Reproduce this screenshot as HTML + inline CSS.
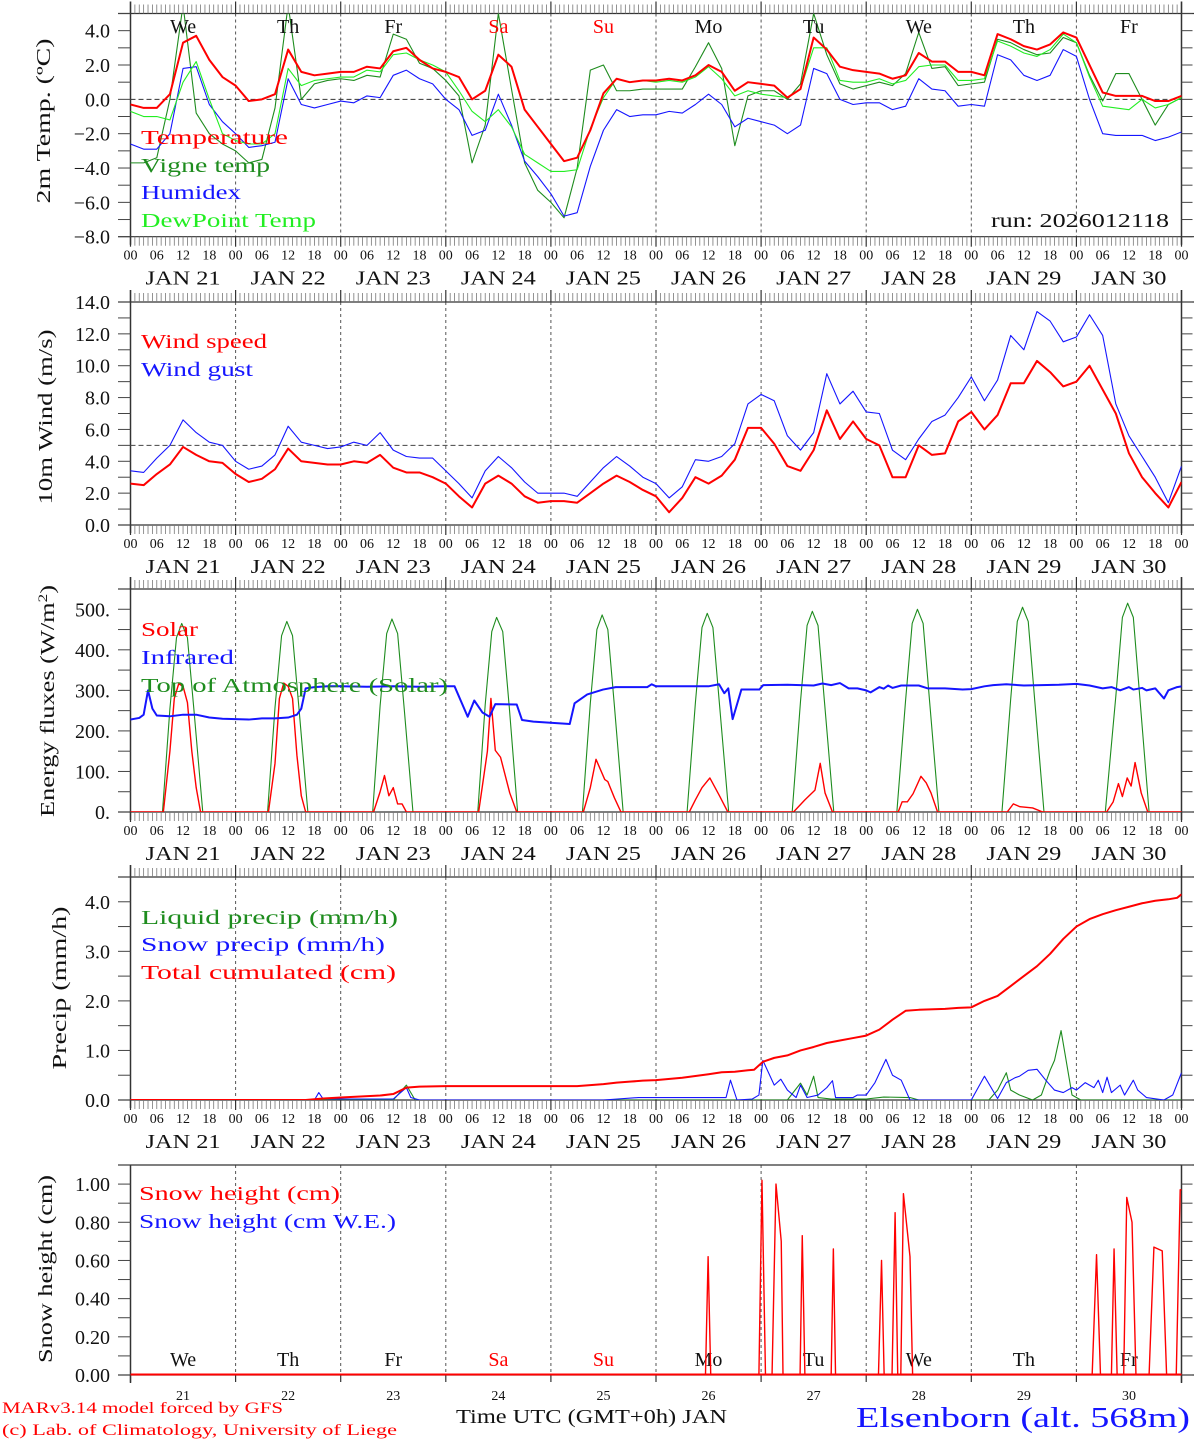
<!DOCTYPE html>
<html><head><meta charset="utf-8"><title>MAR forecast Elsenborn</title>
<style>
html,body{margin:0;padding:0;background:#fff;}
svg{display:block;}
text{font-family:"Liberation Serif","DejaVu Serif",serif;}
</style></head>
<body>
<svg id="chart" xmlns="http://www.w3.org/2000/svg" width="1194" height="1440" viewBox="0 0 1194 1440"></svg>
<script>
// ---------- DATA ----------
const dayNames = ["We","Th","Fr","Sa","Su","Mo","Tu","We","Th","Fr"];
const dayNums = ["21","22","23","24","25","26","27","28","29","30"];
const hourLabels = ["00","06","12","18"];
const tempTicks = [4,2,0,-2,-4,-6,-8];
const windTicks = [0,2,4,6,8,10,12,14];
const fluxTicks = [0,100,200,300,400,500];
const precipTicks = [0,1,2,3,4];
const snowTicks = [0,0.2,0.4,0.6,0.8,1.0];

// 3-hourly series (81 values from Jan 21 00UTC)
const temperature = [-0.3,-0.5,-0.5,0.3,3.3,3.7,2.3,1.3, 0.8,-0.1,0.0,0.3,2.9,1.6,1.4,1.5, 1.6,1.6,1.9,1.8,2.8,3.0,2.3,1.8, 1.6,1.3,0.0,0.5,2.6,1.9,-0.6,-1.6, -2.6,-3.6,-3.4,-1.8,0.35,1.2,1.0,1.1, 1.1,1.2,1.1,1.4,2.0,1.6,0.5,1.0, 0.9,0.8,0.1,0.6,3.6,2.9,1.9,1.7, 1.6,1.5,1.2,1.4,2.7,2.2,2.2,1.6, 1.6,1.4,3.8,3.5,3.1,2.9,3.2,3.9, 3.6,2.0,0.4,0.2,0.2,0.2,-0.1,-0.1, 0.2];
const vigneTemp = [-3.7,-3.7,-3.4,0.0,5.5,-0.8,-2.0,-2.6, -3.0,-3.7,-3.5,-0.5,5.5,0.0,0.9,1.1, 1.2,1.1,1.4,1.3,3.8,3.5,2.1,1.8, 1.1,0.2,-3.7,-1.5,5.0,0.6,-3.7,-5.3, -6.0,-6.9,-4.0,1.7,2.0,0.5,0.5,0.6, 0.6,0.6,0.6,1.9,3.3,1.8,-2.7,0.2, 0.5,0.5,0.0,0.9,5.0,2.6,0.9,0.6, 0.8,1.0,0.8,1.5,3.9,1.8,1.9,0.8, 0.9,1.0,3.5,3.3,2.9,2.6,2.7,3.6, 3.3,1.4,-0.1,1.5,1.5,0.0,-1.5,-0.3, 0.1];
const humidex = [-2.6,-2.9,-2.9,-2.0,1.8,1.9,-0.3,-1.3, -2.0,-2.8,-2.7,-2.5,1.2,-0.3,-0.5,-0.3, -0.1,-0.2,0.2,0.1,1.4,1.7,1.2,0.9, 0.0,-0.6,-2.1,-1.8,0.3,-1.5,-3.6,-4.5, -5.5,-6.8,-6.6,-3.9,-1.8,-0.6,-1.0,-0.9, -0.9,-0.7,-0.8,-0.3,0.3,-0.3,-1.6,-1.1, -1.3,-1.5,-2.0,-1.5,1.8,1.5,0.0,-0.3, -0.2,-0.2,-0.6,-0.4,1.2,0.6,0.5,-0.4, -0.3,-0.4,2.6,2.3,1.4,1.1,1.4,2.9, 2.5,0.0,-2.0,-2.1,-2.1,-2.1,-2.4,-2.2, -1.9];
const dewPoint = [-0.7,-1.0,-1.0,-1.2,1.0,2.2,0.0,-2.0, -2.4,-2.6,-2.6,-2.0,1.8,0.8,1.1,1.2, 1.3,1.3,1.7,1.6,2.6,2.7,2.3,2.0, 1.6,0.5,-0.7,-1.3,-0.6,-1.6,-3.2,-3.7, -4.2,-4.2,-4.1,-1.7,0.1,1.2,1.0,1.1, 1.0,1.1,1.0,1.3,1.9,1.2,0.2,0.5, 0.3,0.2,0.1,0.6,3.0,3.0,1.1,1.0, 1.0,1.2,0.9,1.1,1.9,2.0,2.0,1.1, 1.1,1.2,3.4,3.1,2.7,2.5,2.9,3.8, 3.3,1.3,-0.4,-0.5,-0.6,0.0,-0.5,-0.3, 0.1];
const windSpeed = [2.6,2.5,3.2,3.8,4.9,4.4,4.0,3.9, 3.2,2.7,2.9,3.5,4.8,4.0,3.9,3.8, 3.8,4.0,3.9,4.4,3.6,3.3,3.3,3.0, 2.6,1.8,1.1,2.6,3.1,2.6,1.8,1.4, 1.5,1.5,1.4,2.0,2.6,3.1,2.7,2.2, 1.8,0.8,1.7,3.0,2.6,3.1,4.1,6.1, 6.1,5.1,3.7,3.4,4.7,7.2,5.4,6.5, 5.4,5.0,3.0,3.0,5.0,4.4,4.5,6.5, 7.1,6.0,6.9,8.9,8.9,10.3,9.6,8.7, 9.0,10.0,8.5,7.0,4.5,3.0,2.0,1.1, 2.7];
const windGust = [3.4,3.3,4.2,5.0,6.6,5.8,5.2,5.0, 4.0,3.5,3.7,4.4,6.2,5.2,5.0,4.8, 4.9,5.2,5.0,5.8,4.7,4.3,4.2,4.2, 3.4,2.6,1.7,3.4,4.3,3.6,2.7,2.0, 2.0,2.0,1.8,2.7,3.6,4.3,3.7,3.0, 2.6,1.7,2.4,4.1,4.0,4.3,5.1,7.6, 8.2,7.8,5.6,4.7,5.8,9.5,7.6,8.4, 7.1,7.0,4.7,4.1,5.4,6.5,6.9,8.0, 9.3,7.8,9.1,11.9,11.0,13.4,12.8,11.5, 11.8,13.2,11.9,7.6,5.6,4.3,3.0,1.4, 3.7];

// irregular series: hours since Jan 21 00UTC + values
const solarT = [0,7.5,9,10,11,12,13,14,15,16, 31.5,33,34,35,36,37,38,39,40, 55.5,57,58,59,60,61,62,63, 79.5,81.5,82.3,83.3,84.5,86.6,88.2, 103.4,105,106.3,108.3,109,110.5,112, 127.6,129,130.5,132.3,133.5,134.5,136.4, 151.4,154,156.3,157.5,158.6,160.3, 175.3,176.2,177.4,178.7,180.5,181.7,182.8,184.3, 200.2,201.6,203.1,206,208.3, 222.9,224.4,225.6,226.5,227.6,228.5,229.4,230.8,232.3,240];
const solarV = [0,0,150,280,316,310,270,150,60,0, 0,120,280,318,310,280,140,40,0, 0,50,90,40,60,20,20,0, 0,150,280,152,135,47,0, 0,60,130,80,75,35,0, 0,30,60,84,60,40,0, 0,30,54,120,47,0, 0,25,25,45,88,72,47,0, 0,20,13,10,0, 0,25,70,38,84,64,122,47,0,0];
const toaT = [0,7.3,9,10.5,11.7,13,14.5,16.5, 31.3,33,34.5,35.7,37,38.5,40.5, 55.3,57,58.5,59.7,61,62.5,64.5, 79.3,81,82.5,83.6,85,86.5,88.4, 103.2,105,106.5,107.7,109,110.5,112.5, 127.1,129,130.5,131.7,133,134.5,136.6, 151.1,153,154.5,155.7,157,158.5,160.6, 175,177,178.5,179.7,181,182.5,184.6, 199,201,202.5,203.7,205,206.5,208.6, 222.6,225,226.5,227.7,229,230.5,232.6,240];
const toaV = [0,0,255,430,465,430,250,0, 0,258,435,470,435,252,0, 0,262,440,476,440,255,0, 0,265,445,480,445,258,0, 0,268,450,486,450,262,0, 0,270,455,490,455,265,0, 0,273,460,495,460,268,0, 0,276,465,500,465,270,0, 0,279,470,505,470,273,0, 0,285,480,515,480,280,0,0];
const infraT = [0,2,3,4,5,6,9,12,15,18,21,24,27,30,33,36,38,39,40,42,45,48,54,60,66,72,74,77,78.5,80.4,82,83.3,88.2,89.4,92,100.3,101.4,104.3,107.9,110.8,118,119,120,132,134.4,135.6,136.5,137.5,139.5,143.6,144.5,150,156,158,160,162,164,166,168,169,171,172,173,174,176,180,182,186,190,192,195,197,200,204,208,212,216,219,222,224,226,228,229,231,232,234,236,237,239,240];
const infraV = [228,232,240,300,255,238,236,240,240,233,230,229,228,231,231,233,240,255,305,308,310,310,309,310,309,310,310,235,275,245,235,266,265,227,223,217,268,290,302,308,308,315,310,310,315,293,305,229,302,302,313,314,312,317,313,318,305,305,300,295,308,304,312,306,312,312,305,305,302,303,310,313,315,312,313,314,316,312,305,308,300,308,302,306,300,305,280,300,308,310];
const totalT = [0,40,44,48,57,60,63,66,72,102,105,108,111,114,117,120,126,132,135,138,141,142.4,144.4,147,150,153,156,159,162,165,168,171,174,177,180,186,189,192,195,198,201,204,207,210,213,216,219,222,225,228,231,234,237,239,240];
const totalV = [0,0,0.03,0.05,0.09,0.12,0.25,0.27,0.28,0.28,0.30,0.32,0.35,0.37,0.39,0.40,0.45,0.52,0.56,0.57,0.60,0.61,0.77,0.85,0.90,1.0,1.07,1.15,1.2,1.25,1.3,1.42,1.62,1.8,1.82,1.84,1.86,1.87,2.0,2.1,2.3,2.5,2.7,2.95,3.25,3.5,3.65,3.75,3.83,3.9,3.97,4.02,4.05,4.08,4.15];
const liquidT = [0,60,63,65,150,153,154.5,156,157,160,168,172,178,180,196,198,200,201,203,206,208,210,211,212.5,215,217,240];
const liquidV = [0,0,0.3,0,0,0.34,0.1,0.48,0.05,0.02,0.02,0.06,0.05,0,0,0.2,0.55,0.2,0.1,0,0.1,0.6,0.8,1.4,0.1,0,0];
const snowT = [0,42,43,44,60,63,64,66,108,116,130,136,137,138.5,142,143.5,144.4,147,148.5,150,152,153,154.5,157,159,160.3,161,165,166,168,170,172.5,174,176,178,192,195,198,200,202,203,205,207,209,211,213,215,216,218,220,221,222,223,224,226,227,229,230,232,236,238,240];
const snowV = [0,0,0.15,0.02,0.02,0.25,0.05,0,0,0.05,0.05,0.05,0.4,0,0.02,0.1,0.8,0.3,0.42,0.2,0.05,0.3,0.05,0.1,0.25,0.39,0.05,0.05,0.1,0.1,0.35,0.82,0.5,0.4,0,0,0.48,0.03,0.35,0.45,0.48,0.6,0.62,0.4,0.2,0.15,0.25,0.2,0.35,0.25,0.4,0.15,0.46,0.15,0.3,0.1,0.4,0.2,0.05,0,0.1,0.55];
const snowHT = [0,131.3,131.9,132.5,143.5,144.2,145,146.5,147.4,148.6,149,152.9,153.4,154,160,160.5,161,170.8,171.5,172.1,173.9,174.6,175.2,175.9,176.5,178,178.6,219.6,220.6,221.5,224,224.6,225.3,226.8,227.5,228.7,229.6,232.6,233.7,235.6,236.6,238.8,239.7,240];
const snowHV = [0,0,0.62,0,0,1.02,0,0,1.0,0.7,0,0,0.73,0,0,0.66,0,0,0.6,0,0,0.85,0,0,0.95,0.62,0,0,0.63,0,0,0.66,0,0,0.93,0.8,0,0,0.67,0.65,0,0,0.97,0.97];

// ---------- AXES ----------
const X0 = 130.5, DW = 105.1, XR = X0 + 10*DW;
const P = {
  temp:  {top:13.5, bot:236.7, min:-8, max:5},
  wind:  {top:302,  bot:525,   min:0, max:14},
  flux:  {top:589,  bot:812,   min:0, max:550},
  precip:{top:877,  bot:1100,  min:0, max:4.5},
  snow:  {top:1165, bot:1375,  min:0, max:1.1}
};
function xh(h){ return X0 + h*DW/24; }
function yv(p,v){ return p.bot - (v-p.min)/(p.max-p.min)*(p.bot-p.top); }
const svg = document.getElementById('chart');
const NS = 'http://www.w3.org/2000/svg';
function mk(tag, attrs, name, parent){
  const el = document.createElementNS(NS, tag);
  for (const k in attrs) el.setAttribute(k, attrs[k]);
  
  
  (parent||svg).appendChild(el);
  return el;
}
function txt(s, x, y, size, color, name, opts){
  opts = opts||{};
  const a = {x:x, y:y, 'font-size':size, fill:color, 'text-anchor':opts.anchor||'start'};
  if (opts.len){ a.textLength = opts.len; a.lengthAdjust = 'spacingAndGlyphs'; }
  if (opts.transform) a.transform = opts.transform;
  if (opts.weight) a['font-weight'] = opts.weight;
  const t = mk('text', a, name);
  t.textContent = s;
  return t;
}
function line(x1,y1,x2,y2,stroke,w,name,dash){
  const a = {x1:x1,y1:y1,x2:x2,y2:y2,stroke:stroke,'stroke-width':w};
  if (dash) a['stroke-dasharray'] = dash;
  return mk('line', a, name);
}

let clipId = 0;
function frame(p, key, opts){
  const cp = mk('clipPath', {id:'clip'+(++clipId)}, key+'-clip');
  mk('rect', {x:X0, y:p.top, width:XR-X0, height:p.bot-p.top}, key+'-clip-rect', cp);
  p.clip = 'url(#clip'+clipId+')';
  for (let d=1; d<10; d++){
    line(xh(d*24), p.top, xh(d*24), p.bot, '#555', 1, key+'-day-divider', '3,3');
  }
  line(118, p.top, 1194, p.top, '#333', 1.2, key+'-top-border');
  line(118, p.bot, 1194, p.bot, '#333', 1.2, key+'-bottom-border');
  line(X0, p.top-(opts.hourTicks?12:0), X0, p.bot+8, '#333', 1.5, key+'-left-axis');
  line(XR, p.top-(opts.hourTicks?12:0), XR, p.bot+8, '#333', 1.5, key+'-right-axis');
  if (opts.hourTicks){
    for (let h=0; h<=240; h++){
      const isDay = h%24===0;
      const x = xh(h);
      line(x, p.top-(isDay?12:9), x, p.top, isDay?'#333':'#777', isDay?1.2:0.8, key+'-top-hour-tick');
      line(x, p.bot, x, p.bot+(isDay?10:9), isDay?'#333':'#777', isDay?1.2:0.8, key+'-bottom-hour-tick');
    }
    for (let d=0; d<10; d++){
      for (let k=0; k<4; k++){
        txt(hourLabels[k], xh(d*24+k*6), p.bot+23, 14, '#111', key+'-hour-label', {anchor:'middle'});
      }
      txt('JAN  '+dayNums[d], xh(d*24+12), p.bot+48, 20, '#111', key+'-date-label', {anchor:'middle', len:75});
    }
    txt('00', XR, p.bot+23, 14, '#111', key+'-hour-label', {anchor:'middle'});
  }
  const step = opts.minor;
  for (let v=p.min; v<=p.max+1e-9; v+=step){
    const y = yv(p, v);
    if (y < p.top-0.5) continue;
    line(118, y, X0, y, '#444', 1, key+'-y-tick');
    line(XR, y, XR+11, y, '#444', 1, key+'-y-tick-right');
  }
  opts.ticks.forEach(v=>{
    txt(opts.fmt(v), 110, yv(p,v)+7, 20, '#111', key+'-y-tick-label', {anchor:'end'});
  });
}
function series(p, key, times, vals, color, w){
  let d = '';
  for (let i=0; i<vals.length; i++){
    d += (i? 'L':'M') + xh(times[i]).toFixed(2) + ',' + yv(p, vals[i]).toFixed(2);
  }
  return mk('path', {d:d, fill:'none', stroke:color, 'stroke-width':w, 'stroke-linejoin':'round', 'clip-path':p.clip}, key);
}
function reg(arr){ return arr.map((v,i)=>i*3); }

const RED='#ff0000', DG='#1e8c1e', BLUE='#1515ff', LG='#22ee22';

// ---------- PANEL 1: temperature ----------
const p1 = P.temp;
frame(p1, 'temp-panel', {hourTicks:true, minor:1, ticks:tempTicks, fmt:v=>(v<0?'\u2212':'')+Math.abs(v).toFixed(1)});
line(X0, yv(p1,0), XR, yv(p1,0), '#333', 1, 'temp-zero-line', '5,3');
series(p1, 'vigne-temp-line', reg(vigneTemp), vigneTemp, DG, 1.1);
series(p1, 'humidex-line', reg(humidex), humidex, BLUE, 1.1);
series(p1, 'dewpoint-line', reg(dewPoint), dewPoint, LG, 1.1);
series(p1, 'temperature-line', reg(temperature), temperature, RED, 2);
for (let d=0; d<10; d++){
  txt(dayNames[d], xh(d*24+12), 33, 20, (d===3||d===4)?RED:'#111', 'weekday-label', {anchor:'middle'});
}
txt('Temperature', 141, 144, 20, RED, 'legend-temperature', {len:147});
txt('Vigne temp', 141, 172, 20, DG, 'legend-vigne-temp', {len:129});
txt('Humidex', 141, 199, 20, BLUE, 'legend-humidex', {len:100});
txt('DewPoint Temp', 141, 227, 20, LG, 'legend-dewpoint', {len:175});
txt('run: 2026012118', 991, 227, 20, '#111', 'run-label', {len:178});
txt('2m Temp. (\u00baC)', 50, 121, 20, '#111', 'temp-y-axis-title', {anchor:'middle', len:165, transform:'rotate(-90 50 121)'});

// ---------- PANEL 2: wind ----------
const p2 = P.wind;
frame(p2, 'wind-panel', {hourTicks:true, minor:1, ticks:windTicks, fmt:v=>v.toFixed(1)});
line(X0, yv(p2,5), XR, yv(p2,5), '#444', 1, 'wind-threshold-line', '5,3');
series(p2, 'wind-gust-line', reg(windGust), windGust, BLUE, 1.1);
series(p2, 'wind-speed-line', reg(windSpeed), windSpeed, RED, 2);
txt('Wind speed', 141, 348, 20, RED, 'legend-wind-speed', {len:126});
txt('Wind gust', 141, 376, 20, BLUE, 'legend-wind-gust', {len:112});
txt('10m Wind (m/s)', 52, 417, 20, '#111', 'wind-y-axis-title', {anchor:'middle', len:175, transform:'rotate(-90 52 417)'});

// ---------- PANEL 3: energy fluxes ----------
const p3 = P.flux;
frame(p3, 'flux-panel', {hourTicks:true, minor:50, ticks:fluxTicks, fmt:v=>v+'.'});
series(p3, 'toa-solar-line', toaT, toaV, DG, 1.1);
series(p3, 'solar-line', solarT, solarV, RED, 1.4);
series(p3, 'infrared-line', infraT, infraV, BLUE, 2);
txt('Solar', 141, 636, 20, RED, 'legend-solar', {len:57});
txt('Infrared', 141, 664, 20, BLUE, 'legend-infrared', {len:93});
txt('Top of Atmosphere (Solar)', 141, 692, 20, DG, 'legend-toa-solar', {len:307});
const ft = txt('Energy fluxes (W/m', 54, 701, 20, '#111', 'flux-y-axis-title', {anchor:'middle', len:232, transform:'rotate(-90 54 701)'});
const sup = document.createElementNS(NS,'tspan');


sup.setAttribute('baseline-shift','super'); sup.setAttribute('font-size','13'); sup.textContent='2';
ft.appendChild(sup);
const cl = document.createElementNS(NS,'tspan');


cl.textContent=')'; ft.appendChild(cl);

// ---------- PANEL 4: precipitation ----------
const p4 = P.precip;
frame(p4, 'precip-panel', {hourTicks:true, minor:0.5, ticks:precipTicks, fmt:v=>v.toFixed(1)});
series(p4, 'liquid-precip-line', liquidT, liquidV, DG, 1.1);
series(p4, 'snow-precip-line', snowT, snowV, BLUE, 1.1);
series(p4, 'total-cumulated-line', totalT, totalV, RED, 2);
txt('Liquid precip (mm/h)', 141, 924, 20, DG, 'legend-liquid-precip', {len:257});
txt('Snow precip (mm/h)', 141, 951, 20, BLUE, 'legend-snow-precip', {len:244});
txt('Total cumulated (cm)', 141, 979, 20, RED, 'legend-total-cumulated', {len:255});
txt('Precip (mm/h)', 66, 988, 20, '#111', 'precip-y-axis-title', {anchor:'middle', len:163, transform:'rotate(-90 66 988)'});

// ---------- PANEL 5: snow height ----------
const p5 = P.snow;
frame(p5, 'snow-panel', {hourTicks:false, minor:0.1, ticks:snowTicks, fmt:v=>v.toFixed(2)});
for (let d=0; d<=10; d++){
  line(xh(d*24), p5.bot, xh(d*24), p5.bot+7, '#333', 1.2, 'snow-day-tick');
}
for (let d=0; d<10; d++){
  txt(dayNames[d], xh(d*24+12), 1366, 20, (d===3||d===4)?RED:'#111', 'snow-weekday-label', {anchor:'middle'});
  txt(dayNums[d], xh(d*24+12), 1400, 14, '#111', 'snow-day-number', {anchor:'middle'});
}
series(p5, 'snow-height-line', snowHT, snowHV, RED, 1.4);
line(X0, p5.bot-0.5, XR, p5.bot-0.5, RED, 2, 'snow-height-zero');
txt('Snow height (cm)', 139, 1200, 20, RED, 'legend-snow-height', {len:201});
txt('Snow height (cm W.E.)', 139, 1228, 20, BLUE, 'legend-snow-height-we', {len:257});
txt('Snow height (cm)', 52, 1269, 20, '#111', 'snow-y-axis-title', {anchor:'middle', len:188, transform:'rotate(-90 52 1269)'});

// ---------- footer ----------
txt('MARv3.14 model forced by GFS', 2, 1413, 16, RED, 'model-credit', {len:281});
txt('(c) Lab. of Climatology, University of Liege', 2, 1435, 16, RED, 'lab-credit', {len:395});
txt('Time UTC (GMT+0h) JAN', 456, 1423, 20, '#111', 'x-axis-title', {len:271});
txt('Elsenborn (alt. 568m)', 856, 1427, 28, BLUE, 'station-title', {len:334});
</script>
</body></html>
